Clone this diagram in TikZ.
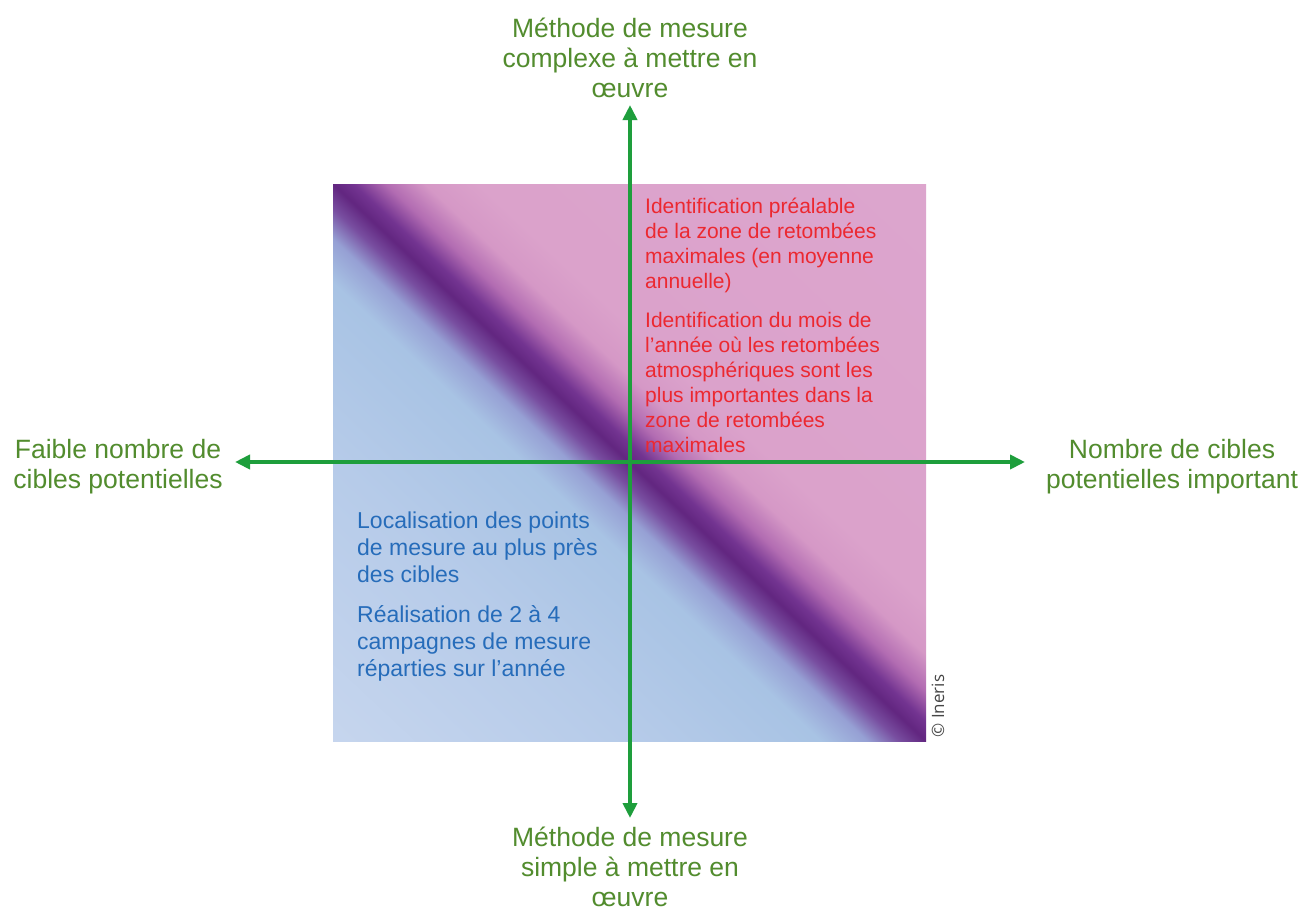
\documentclass[tikz,border=0pt]{standalone}
\usepackage{fontspec}
\setmainfont{Liberation Sans}
\newfontfamily\creditfont{Open Sans}
\usetikzlibrary{arrows.meta}

% palette
\definecolor{axisgreen}{RGB}{30,158,60}
\definecolor{labelgreen}{RGB}{82,140,46}
\definecolor{textred}{RGB}{236,40,48}
\definecolor{textblue}{RGB}{38,108,186}
\definecolor{creditgray}{RGB}{70,70,70}

% colours across the diagonal band, from the blue corner to the pink one
\definecolor{bandA}{RGB}{205,218,240}
\definecolor{bandB}{RGB}{182,203,233}
\definecolor{bandC}{RGB}{168,195,228}
\definecolor{bandD}{RGB}{150,160,212}
\definecolor{bandE}{RGB}{120,78,160}
\definecolor{bandF}{RGB}{98,38,128}
\definecolor{bandG}{RGB}{115,52,145}
\definecolor{bandH}{RGB}{178,108,178}
\definecolor{bandI}{RGB}{213,152,198}
\definecolor{bandJ}{RGB}{219,162,203}
\definecolor{bandK}{RGB}{221,166,206}

% central 50bp of the shading covers a 1000pt square: bp = 50 + d/20
\pgfdeclareverticalshading{band}{100bp}{%
  color(0bp)=(bandA); color(25bp)=(bandA); color(40bp)=(bandB);
  color(46.4bp)=(bandC); color(48bp)=(bandD); color(49.1bp)=(bandE);
  color(50bp)=(bandF); color(50.7bp)=(bandG); color(51.8bp)=(bandH);
  color(53.15bp)=(bandI); color(55bp)=(bandJ); color(75bp)=(bandK);
  color(100bp)=(bandK)}

\tikzset{
  axis/.style={draw=axisgreen, line width=4pt,
    {Triangle[length=15pt,width=14pt]}-{Triangle[length=15pt,width=14pt]}},
  glabel/.style={font=\fontsize{26.5}{30}\selectfont, text=labelgreen,
    align=center, inner sep=0pt},
  redtext/.style={font=\fontsize{21}{25}\selectfont, text=textred,
    align=left, inner sep=0pt},
  bluetext/.style={font=\fontsize{23}{27}\selectfont, text=textblue,
    align=left, inner sep=0pt},
  credit/.style={font=\creditfont\fontsize{17}{19}\selectfont,
    text=creditgray, inner sep=0pt}
}

\begin{document}
\begin{tikzpicture}[x=1pt,y=-1pt]
\useasboundingbox[fill=white] (0,0) rectangle (1306,911);

% quadrant square with its diagonal gradient band
\begin{scope}
  \clip (333,184) rectangle (926,741);
  \begin{scope}[transform canvas={shift={(629.5pt,-462.5pt)},rotate=-43.21}]
    \shade[shading=band] (-500pt,-500pt) rectangle (500pt,500pt);
  \end{scope}
\end{scope}

% axes
\coordinate (W) at (235,462);
\coordinate (E) at (1025,462);
\coordinate (N) at (630,105);
\coordinate (S) at (630,818);
\draw[axis] (W) -- (E);
\draw[axis] (S) -- (N);

% axis labels
\node[glabel, anchor=north] (top) at (630,17.7)
  {Méthode de mesure\\complexe à mettre en\\œuvre};
\node[glabel, anchor=north] (bottom) at (630,826.7)
  {Méthode de mesure\\simple à mettre en\\œuvre};
\node[glabel, anchor=north] (left) at (118,438.7)
  {Faible nombre de\\cibles potentielles};
\node[glabel, anchor=north] (right) at (1172,438.7)
  {Nombre de cibles\\potentielles important};

% quadrant texts
\node[redtext, anchor=north west] (upper) at (645,198)
  {Identification préalable\\de la zone de retombées\\maximales (en moyenne\\annuelle)\\[14pt]%
   Identification du mois de\\l’année où les retombées\\atmosphériques sont les\\plus importantes dans la\\zone de retombées\\maximales};
\node[bluetext, anchor=north west] (lower) at (357,511.2)
  {Localisation des points\\de mesure au plus près\\des cibles\\[13pt]%
   Réalisation de 2 à 4\\campagnes de mesure\\réparties sur l’année};

% credit
\node[credit, rotate=90] (creditline) at (938,706) {© Ineris};
\end{tikzpicture}
\end{document}
